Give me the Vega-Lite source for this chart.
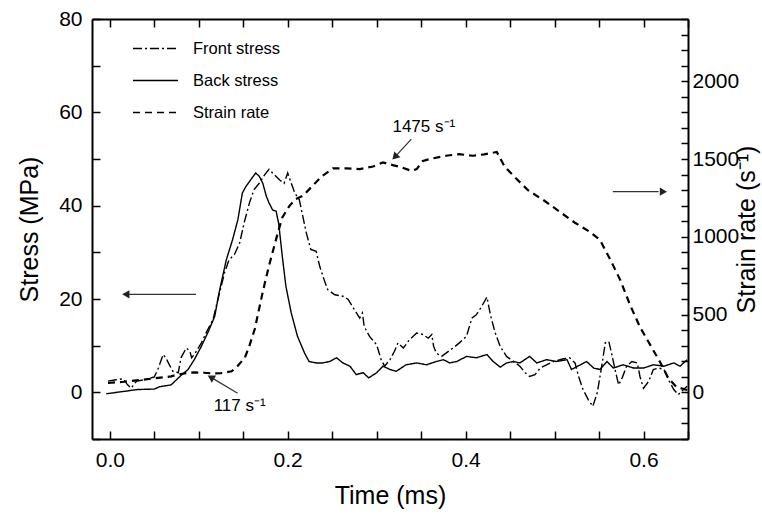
{
  "$schema": "https://vega.github.io/schema/vega-lite/v6.json",
  "autosize": {"type": "none"},
  "padding": {"left": 92, "top": 19, "right": 74, "bottom": 77},
  "width": 596,
  "height": 420,
  "background": "white",
  "config": {
    "font": "Liberation Sans",
    "view": {"stroke": null},
    "axis": {"grid": false, "domainColor": "black", "domainWidth": 2, "tickColor": "black", "tickWidth": 1.5, "labelColor": "black", "titleColor": "black", "labelFont": "Liberation Sans", "titleFont": "Liberation Sans", "labelFontSize": 21, "titleFontSize": 25, "titleFontWeight": "normal", "labelOverlap": false, "labelFlush": false}
  },
  "datasets": {
    "stress": [
      {"t": -0.004, "v": -0.3, "series": "Back stress"},
      {"t": 0.016, "v": 0.2, "series": "Back stress"},
      {"t": 0.031, "v": 0.6, "series": "Back stress"},
      {"t": 0.05, "v": 0.7, "series": "Back stress"},
      {"t": 0.056, "v": 1.2, "series": "Back stress"},
      {"t": 0.069, "v": 1.6, "series": "Back stress"},
      {"t": 0.075, "v": 2.7, "series": "Back stress"},
      {"t": 0.08, "v": 3.6, "series": "Back stress"},
      {"t": 0.088, "v": 4.9, "series": "Back stress"},
      {"t": 0.095, "v": 7.0, "series": "Back stress"},
      {"t": 0.103, "v": 9.9, "series": "Back stress"},
      {"t": 0.11, "v": 12.7, "series": "Back stress"},
      {"t": 0.118, "v": 16.3, "series": "Back stress"},
      {"t": 0.123, "v": 21.5, "series": "Back stress"},
      {"t": 0.131, "v": 28.4, "series": "Back stress"},
      {"t": 0.138, "v": 32.7, "series": "Back stress"},
      {"t": 0.144, "v": 37.0, "series": "Back stress"},
      {"t": 0.149, "v": 42.7, "series": "Back stress"},
      {"t": 0.153, "v": 44.1, "series": "Back stress"},
      {"t": 0.164, "v": 47.0, "series": "Back stress"},
      {"t": 0.168, "v": 46.3, "series": "Back stress"},
      {"t": 0.172, "v": 44.8, "series": "Back stress"},
      {"t": 0.176, "v": 42.0, "series": "Back stress"},
      {"t": 0.179, "v": 40.6, "series": "Back stress"},
      {"t": 0.183, "v": 39.1, "series": "Back stress"},
      {"t": 0.187, "v": 38.8, "series": "Back stress"},
      {"t": 0.19, "v": 36.0, "series": "Back stress"},
      {"t": 0.194, "v": 29.0, "series": "Back stress"},
      {"t": 0.198, "v": 22.7, "series": "Back stress"},
      {"t": 0.204, "v": 17.0, "series": "Back stress"},
      {"t": 0.211, "v": 12.0, "series": "Back stress"},
      {"t": 0.219, "v": 8.4, "series": "Back stress"},
      {"t": 0.224, "v": 6.6, "series": "Back stress"},
      {"t": 0.232, "v": 6.3, "series": "Back stress"},
      {"t": 0.239, "v": 6.3, "series": "Back stress"},
      {"t": 0.247, "v": 6.6, "series": "Back stress"},
      {"t": 0.255, "v": 7.4, "series": "Back stress"},
      {"t": 0.262, "v": 6.3, "series": "Back stress"},
      {"t": 0.27, "v": 5.6, "series": "Back stress"},
      {"t": 0.277, "v": 3.8, "series": "Back stress"},
      {"t": 0.285, "v": 4.2, "series": "Back stress"},
      {"t": 0.291, "v": 3.1, "series": "Back stress"},
      {"t": 0.3, "v": 4.2, "series": "Back stress"},
      {"t": 0.307, "v": 5.6, "series": "Back stress"},
      {"t": 0.315, "v": 4.9, "series": "Back stress"},
      {"t": 0.322, "v": 4.5, "series": "Back stress"},
      {"t": 0.333, "v": 5.9, "series": "Back stress"},
      {"t": 0.345, "v": 6.3, "series": "Back stress"},
      {"t": 0.356, "v": 5.9, "series": "Back stress"},
      {"t": 0.367, "v": 6.6, "series": "Back stress"},
      {"t": 0.375, "v": 7.0, "series": "Back stress"},
      {"t": 0.382, "v": 6.3, "series": "Back stress"},
      {"t": 0.39, "v": 6.6, "series": "Back stress"},
      {"t": 0.401, "v": 7.7, "series": "Back stress"},
      {"t": 0.412, "v": 7.4, "series": "Back stress"},
      {"t": 0.424, "v": 8.1, "series": "Back stress"},
      {"t": 0.431, "v": 6.6, "series": "Back stress"},
      {"t": 0.439, "v": 5.4, "series": "Back stress"},
      {"t": 0.446, "v": 6.3, "series": "Back stress"},
      {"t": 0.454, "v": 6.6, "series": "Back stress"},
      {"t": 0.461, "v": 6.3, "series": "Back stress"},
      {"t": 0.472, "v": 7.7, "series": "Back stress"},
      {"t": 0.48, "v": 6.3, "series": "Back stress"},
      {"t": 0.491, "v": 7.0, "series": "Back stress"},
      {"t": 0.502, "v": 6.6, "series": "Back stress"},
      {"t": 0.514, "v": 7.0, "series": "Back stress"},
      {"t": 0.519, "v": 4.9, "series": "Back stress"},
      {"t": 0.529, "v": 5.9, "series": "Back stress"},
      {"t": 0.536, "v": 6.6, "series": "Back stress"},
      {"t": 0.544, "v": 5.2, "series": "Back stress"},
      {"t": 0.551, "v": 4.9, "series": "Back stress"},
      {"t": 0.559, "v": 6.6, "series": "Back stress"},
      {"t": 0.566, "v": 5.2, "series": "Back stress"},
      {"t": 0.577, "v": 5.9, "series": "Back stress"},
      {"t": 0.589, "v": 5.2, "series": "Back stress"},
      {"t": 0.6, "v": 5.2, "series": "Back stress"},
      {"t": 0.611, "v": 5.9, "series": "Back stress"},
      {"t": 0.623, "v": 5.6, "series": "Back stress"},
      {"t": 0.634, "v": 6.3, "series": "Back stress"},
      {"t": 0.641, "v": 5.6, "series": "Back stress"},
      {"t": 0.649, "v": 7.0, "series": "Back stress"},
      {"t": -0.002, "v": 2.4, "series": "Front stress"},
      {"t": 0.007, "v": 2.7, "series": "Front stress"},
      {"t": 0.015, "v": 2.9, "series": "Front stress"},
      {"t": 0.02, "v": 1.6, "series": "Front stress"},
      {"t": 0.024, "v": 0.9, "series": "Front stress"},
      {"t": 0.03, "v": 2.4, "series": "Front stress"},
      {"t": 0.039, "v": 2.7, "series": "Front stress"},
      {"t": 0.05, "v": 3.3, "series": "Front stress"},
      {"t": 0.054, "v": 4.9, "series": "Front stress"},
      {"t": 0.06, "v": 8.1, "series": "Front stress"},
      {"t": 0.063, "v": 7.4, "series": "Front stress"},
      {"t": 0.067, "v": 5.9, "series": "Front stress"},
      {"t": 0.071, "v": 4.5, "series": "Front stress"},
      {"t": 0.077, "v": 4.2, "series": "Front stress"},
      {"t": 0.08, "v": 7.4, "series": "Front stress"},
      {"t": 0.086, "v": 9.5, "series": "Front stress"},
      {"t": 0.09, "v": 8.8, "series": "Front stress"},
      {"t": 0.092, "v": 7.4, "series": "Front stress"},
      {"t": 0.095, "v": 8.1, "series": "Front stress"},
      {"t": 0.103, "v": 10.6, "series": "Front stress"},
      {"t": 0.11, "v": 13.4, "series": "Front stress"},
      {"t": 0.116, "v": 15.6, "series": "Front stress"},
      {"t": 0.121, "v": 19.5, "series": "Front stress"},
      {"t": 0.129, "v": 25.6, "series": "Front stress"},
      {"t": 0.134, "v": 28.4, "series": "Front stress"},
      {"t": 0.14, "v": 29.5, "series": "Front stress"},
      {"t": 0.146, "v": 32.0, "series": "Front stress"},
      {"t": 0.151, "v": 36.3, "series": "Front stress"},
      {"t": 0.157, "v": 40.6, "series": "Front stress"},
      {"t": 0.162, "v": 43.4, "series": "Front stress"},
      {"t": 0.168, "v": 44.8, "series": "Front stress"},
      {"t": 0.174, "v": 46.6, "series": "Front stress"},
      {"t": 0.179, "v": 47.8, "series": "Front stress"},
      {"t": 0.185, "v": 46.6, "series": "Front stress"},
      {"t": 0.191, "v": 45.5, "series": "Front stress"},
      {"t": 0.196, "v": 44.8, "series": "Front stress"},
      {"t": 0.2, "v": 47.0, "series": "Front stress"},
      {"t": 0.204, "v": 44.8, "series": "Front stress"},
      {"t": 0.208, "v": 42.7, "series": "Front stress"},
      {"t": 0.213, "v": 41.3, "series": "Front stress"},
      {"t": 0.217, "v": 37.7, "series": "Front stress"},
      {"t": 0.221, "v": 34.1, "series": "Front stress"},
      {"t": 0.226, "v": 30.6, "series": "Front stress"},
      {"t": 0.232, "v": 30.2, "series": "Front stress"},
      {"t": 0.236, "v": 27.0, "series": "Front stress"},
      {"t": 0.241, "v": 24.1, "series": "Front stress"},
      {"t": 0.245, "v": 22.0, "series": "Front stress"},
      {"t": 0.253, "v": 20.9, "series": "Front stress"},
      {"t": 0.262, "v": 20.6, "series": "Front stress"},
      {"t": 0.268, "v": 19.9, "series": "Front stress"},
      {"t": 0.275, "v": 17.7, "series": "Front stress"},
      {"t": 0.281, "v": 15.9, "series": "Front stress"},
      {"t": 0.284, "v": 17.0, "series": "Front stress"},
      {"t": 0.286, "v": 14.1, "series": "Front stress"},
      {"t": 0.292, "v": 12.0, "series": "Front stress"},
      {"t": 0.3, "v": 10.2, "series": "Front stress"},
      {"t": 0.305, "v": 7.0, "series": "Front stress"},
      {"t": 0.309, "v": 5.6, "series": "Front stress"},
      {"t": 0.315, "v": 7.0, "series": "Front stress"},
      {"t": 0.32, "v": 8.8, "series": "Front stress"},
      {"t": 0.324, "v": 10.6, "series": "Front stress"},
      {"t": 0.33, "v": 9.5, "series": "Front stress"},
      {"t": 0.337, "v": 11.3, "series": "Front stress"},
      {"t": 0.345, "v": 12.7, "series": "Front stress"},
      {"t": 0.352, "v": 12.4, "series": "Front stress"},
      {"t": 0.358, "v": 11.6, "series": "Front stress"},
      {"t": 0.362, "v": 12.4, "series": "Front stress"},
      {"t": 0.364, "v": 9.9, "series": "Front stress"},
      {"t": 0.367, "v": 8.4, "series": "Front stress"},
      {"t": 0.373, "v": 7.7, "series": "Front stress"},
      {"t": 0.378, "v": 8.4, "series": "Front stress"},
      {"t": 0.386, "v": 9.5, "series": "Front stress"},
      {"t": 0.393, "v": 10.6, "series": "Front stress"},
      {"t": 0.401, "v": 12.0, "series": "Front stress"},
      {"t": 0.407, "v": 15.9, "series": "Front stress"},
      {"t": 0.412, "v": 16.6, "series": "Front stress"},
      {"t": 0.418, "v": 18.4, "series": "Front stress"},
      {"t": 0.424, "v": 20.4, "series": "Front stress"},
      {"t": 0.428, "v": 16.5, "series": "Front stress"},
      {"t": 0.433, "v": 12.9, "series": "Front stress"},
      {"t": 0.439, "v": 9.8, "series": "Front stress"},
      {"t": 0.446, "v": 7.7, "series": "Front stress"},
      {"t": 0.454, "v": 6.6, "series": "Front stress"},
      {"t": 0.461, "v": 5.6, "series": "Front stress"},
      {"t": 0.467, "v": 4.2, "series": "Front stress"},
      {"t": 0.472, "v": 3.4, "series": "Front stress"},
      {"t": 0.478, "v": 3.8, "series": "Front stress"},
      {"t": 0.484, "v": 5.2, "series": "Front stress"},
      {"t": 0.491, "v": 5.9, "series": "Front stress"},
      {"t": 0.499, "v": 6.6, "series": "Front stress"},
      {"t": 0.51, "v": 7.2, "series": "Front stress"},
      {"t": 0.517, "v": 7.4, "series": "Front stress"},
      {"t": 0.523, "v": 6.3, "series": "Front stress"},
      {"t": 0.527, "v": 3.4, "series": "Front stress"},
      {"t": 0.532, "v": 0.6, "series": "Front stress"},
      {"t": 0.538, "v": -1.6, "series": "Front stress"},
      {"t": 0.543, "v": -3.0, "series": "Front stress"},
      {"t": 0.548, "v": -0.1, "series": "Front stress"},
      {"t": 0.553, "v": 5.6, "series": "Front stress"},
      {"t": 0.557, "v": 10.6, "series": "Front stress"},
      {"t": 0.561, "v": 10.9, "series": "Front stress"},
      {"t": 0.564, "v": 8.4, "series": "Front stress"},
      {"t": 0.568, "v": 4.9, "series": "Front stress"},
      {"t": 0.572, "v": 1.6, "series": "Front stress"},
      {"t": 0.576, "v": 3.1, "series": "Front stress"},
      {"t": 0.581, "v": 5.6, "series": "Front stress"},
      {"t": 0.587, "v": 6.6, "series": "Front stress"},
      {"t": 0.593, "v": 6.3, "series": "Front stress"},
      {"t": 0.596, "v": 3.4, "series": "Front stress"},
      {"t": 0.6, "v": 0.9, "series": "Front stress"},
      {"t": 0.606, "v": 2.4, "series": "Front stress"},
      {"t": 0.611, "v": 4.9, "series": "Front stress"},
      {"t": 0.617, "v": 5.2, "series": "Front stress"},
      {"t": 0.623, "v": 4.9, "series": "Front stress"},
      {"t": 0.628, "v": 2.7, "series": "Front stress"},
      {"t": 0.634, "v": 0.6, "series": "Front stress"},
      {"t": 0.639, "v": -0.5, "series": "Front stress"},
      {"t": 0.645, "v": 0.6, "series": "Front stress"},
      {"t": 0.649, "v": 1.3, "series": "Front stress"}
    ],
    "rate": [
      {"t": -0.002, "v": 60, "series": "Strain rate"},
      {"t": 0.016, "v": 68, "series": "Strain rate"},
      {"t": 0.035, "v": 80, "series": "Strain rate"},
      {"t": 0.05, "v": 90, "series": "Strain rate"},
      {"t": 0.06, "v": 96, "series": "Strain rate"},
      {"t": 0.069, "v": 103, "series": "Strain rate"},
      {"t": 0.077, "v": 115, "series": "Strain rate"},
      {"t": 0.088, "v": 125, "series": "Strain rate"},
      {"t": 0.095, "v": 128, "series": "Strain rate"},
      {"t": 0.106, "v": 126, "series": "Strain rate"},
      {"t": 0.114, "v": 122, "series": "Strain rate"},
      {"t": 0.125, "v": 123, "series": "Strain rate"},
      {"t": 0.137, "v": 135, "series": "Strain rate"},
      {"t": 0.144, "v": 171, "series": "Strain rate"},
      {"t": 0.152, "v": 225, "series": "Strain rate"},
      {"t": 0.157, "v": 300, "series": "Strain rate"},
      {"t": 0.163, "v": 407, "series": "Strain rate"},
      {"t": 0.167, "v": 514, "series": "Strain rate"},
      {"t": 0.171, "v": 620, "series": "Strain rate"},
      {"t": 0.175, "v": 720, "series": "Strain rate"},
      {"t": 0.179, "v": 814, "series": "Strain rate"},
      {"t": 0.184, "v": 921, "series": "Strain rate"},
      {"t": 0.189, "v": 1028, "series": "Strain rate"},
      {"t": 0.194, "v": 1125, "series": "Strain rate"},
      {"t": 0.202, "v": 1199, "series": "Strain rate"},
      {"t": 0.209, "v": 1242, "series": "Strain rate"},
      {"t": 0.217, "v": 1263, "series": "Strain rate"},
      {"t": 0.228, "v": 1328, "series": "Strain rate"},
      {"t": 0.239, "v": 1392, "series": "Strain rate"},
      {"t": 0.251, "v": 1440, "series": "Strain rate"},
      {"t": 0.266, "v": 1440, "series": "Strain rate"},
      {"t": 0.281, "v": 1435, "series": "Strain rate"},
      {"t": 0.296, "v": 1452, "series": "Strain rate"},
      {"t": 0.307, "v": 1478, "series": "Strain rate"},
      {"t": 0.318, "v": 1461, "series": "Strain rate"},
      {"t": 0.328, "v": 1446, "series": "Strain rate"},
      {"t": 0.339, "v": 1424, "series": "Strain rate"},
      {"t": 0.345, "v": 1435, "series": "Strain rate"},
      {"t": 0.352, "v": 1488, "series": "Strain rate"},
      {"t": 0.363, "v": 1504, "series": "Strain rate"},
      {"t": 0.378, "v": 1521, "series": "Strain rate"},
      {"t": 0.393, "v": 1531, "series": "Strain rate"},
      {"t": 0.408, "v": 1521, "series": "Strain rate"},
      {"t": 0.421, "v": 1530, "series": "Strain rate"},
      {"t": 0.435, "v": 1545, "series": "Strain rate"},
      {"t": 0.444, "v": 1450, "series": "Strain rate"},
      {"t": 0.455, "v": 1385, "series": "Strain rate"},
      {"t": 0.47, "v": 1300, "series": "Strain rate"},
      {"t": 0.489, "v": 1230, "series": "Strain rate"},
      {"t": 0.506, "v": 1160, "series": "Strain rate"},
      {"t": 0.523, "v": 1090, "series": "Strain rate"},
      {"t": 0.54, "v": 1030, "series": "Strain rate"},
      {"t": 0.551, "v": 980, "series": "Strain rate"},
      {"t": 0.562, "v": 860, "series": "Strain rate"},
      {"t": 0.574, "v": 720, "series": "Strain rate"},
      {"t": 0.585, "v": 560, "series": "Strain rate"},
      {"t": 0.596, "v": 420, "series": "Strain rate"},
      {"t": 0.608, "v": 300, "series": "Strain rate"},
      {"t": 0.619, "v": 190, "series": "Strain rate"},
      {"t": 0.628, "v": 90, "series": "Strain rate"},
      {"t": 0.637, "v": 35, "series": "Strain rate"},
      {"t": 0.649, "v": 15, "series": "Strain rate"}
    ]
  },
  "layer": [
    {
      "encoding": {
        "x": {"field": "t", "type": "quantitative", "scale": {"domain": [-0.02, 0.65], "nice": false, "zero": false},
          "axis": {"orient": "bottom", "title": "Time (ms)", "titlePadding": 13, "values": [0, 0.05, 0.1, 0.15, 0.2, 0.25, 0.3, 0.35, 0.4, 0.45, 0.5, 0.55, 0.6, 0.65], "format": ".1f",
            "labelExpr": "round(datum.value*100) % 20 === 0 ? datum.label : ''",
            "tickSize": -8,
            "labelPadding": 18}},
        "y": {"field": "v", "type": "quantitative", "scale": {"domain": [-10, 80], "nice": false, "zero": false},
          "axis": {"orient": "left", "title": "Stress (MPa)", "titlePadding": 16, "values": [-10, 0, 10, 20, 30, 40, 50, 60, 70, 80],
            "labelExpr": "datum.value % 20 === 0 ? datum.label : ''",
            "tickSize": -8,
            "labelPadding": 18}}
      },
      "layer": [
        {
          "data": {"name": "stress"},
          "mark": {"type": "line", "color": "black", "strokeWidth": 1.4},
          "encoding": {
            "strokeDash": {"field": "series", "type": "nominal", "sort": null,
              "scale": {"domain": ["Front stress", "Back stress", "Strain rate"], "range": [[9, 3, 2, 3], [1, 0], [7, 5]]},
              "legend": {"title": null, "orient": "none", "legendX": 40, "legendY": 6, "symbolType": "stroke", "symbolSize": 2025, "symbolStrokeWidth": 1.5, "symbolStrokeColor": "black", "labelFontSize": 16.5, "labelFont": "Liberation Sans", "labelOffset": 14, "rowPadding": -8}}
          }
        },
        {
          "data": {"values": [{"t": 0.097, "v": 21, "t2": 0.019}]},
          "mark": {"type": "rule", "color": "#333", "strokeWidth": 1.2},
          "encoding": {"x2": {"field": "t2"}}
        },
        {
          "data": {"values": [{"t": 0.018, "v": 21}]},
          "mark": {"type": "point", "shape": "triangle-left", "filled": true, "color": "#222", "size": 70, "opacity": 1}
        }
      ]
    },
    {
      "encoding": {
        "x": {"field": "t", "type": "quantitative", "scale": {"domain": [-0.02, 0.65], "nice": false, "zero": false},
          "axis": {"orient": "top", "title": null, "labels": false, "values": [0, 0.05, 0.1, 0.15, 0.2, 0.25, 0.3, 0.35, 0.4, 0.45, 0.5, 0.55, 0.6, 0.65],
            "tickSize": -8}},
        "y": {"field": "v", "type": "quantitative", "scale": {"domain": [-300, 2400], "nice": false, "zero": false},
          "axis": {"orient": "right", "title": "Strain rate (s⁻¹)", "titleAngle": 270, "titleBaseline": "top", "titlePadding": -4, "format": "d",
            "values": [-300, -200, -100, 0, 100, 200, 300, 400, 500, 600, 700, 800, 900, 1000, 1100, 1200, 1300, 1400, 1500, 1600, 1700, 1800, 1900, 2000, 2100, 2200, 2300, 2400],
            "labelExpr": "datum.value % 500 === 0 && datum.value >= 0 && datum.value <= 2000 ? datum.label : ''",
            "tickSize": -7,
            "labelPadding": 11}}
      },
      "layer": [
        {
          "data": {"name": "rate"},
          "mark": {"type": "line", "color": "black", "strokeWidth": 2.2},
          "encoding": {
            "strokeDash": {"field": "series", "type": "nominal", "sort": null}
          }
        },
        {
          "data": {"values": [
            {"t": 0.5655, "v": 1290, "t2": 0.617, "v2": 1290},
            {"t": 0.339, "v": 1628, "t2": 0.3214, "v2": 1519},
            {"t": 0.1437, "v": -6, "t2": 0.1148, "v2": 93}
          ]},
          "mark": {"type": "rule", "color": "#333", "strokeWidth": 1.2},
          "encoding": {"x2": {"field": "t2"}, "y2": {"field": "v2"}}
        },
        {
          "data": {"values": [
            {"t": 0.621, "v": 1290, "a": 90},
            {"t": 0.3214, "v": 1519, "a": 223},
            {"t": 0.1148, "v": 93, "a": 301}
          ]},
          "mark": {"type": "point", "shape": "triangle", "filled": true, "color": "#222", "size": 70, "opacity": 1},
          "encoding": {"angle": {"field": "a", "type": "quantitative", "scale": null}}
        },
        {
          "data": {"values": [
            {"t": 0.353, "v": 1705, "label": "1475 s⁻¹"},
            {"t": 0.146, "v": -88, "label": "117 s⁻¹"}
          ]},
          "mark": {"type": "text", "font": "Liberation Sans", "fontSize": 17, "color": "black"},
          "encoding": {"text": {"field": "label"}}
        }
      ]
    }
  ],
  "resolve": {"scale": {"y": "independent"}, "axis": {"x": "independent"}}
}
